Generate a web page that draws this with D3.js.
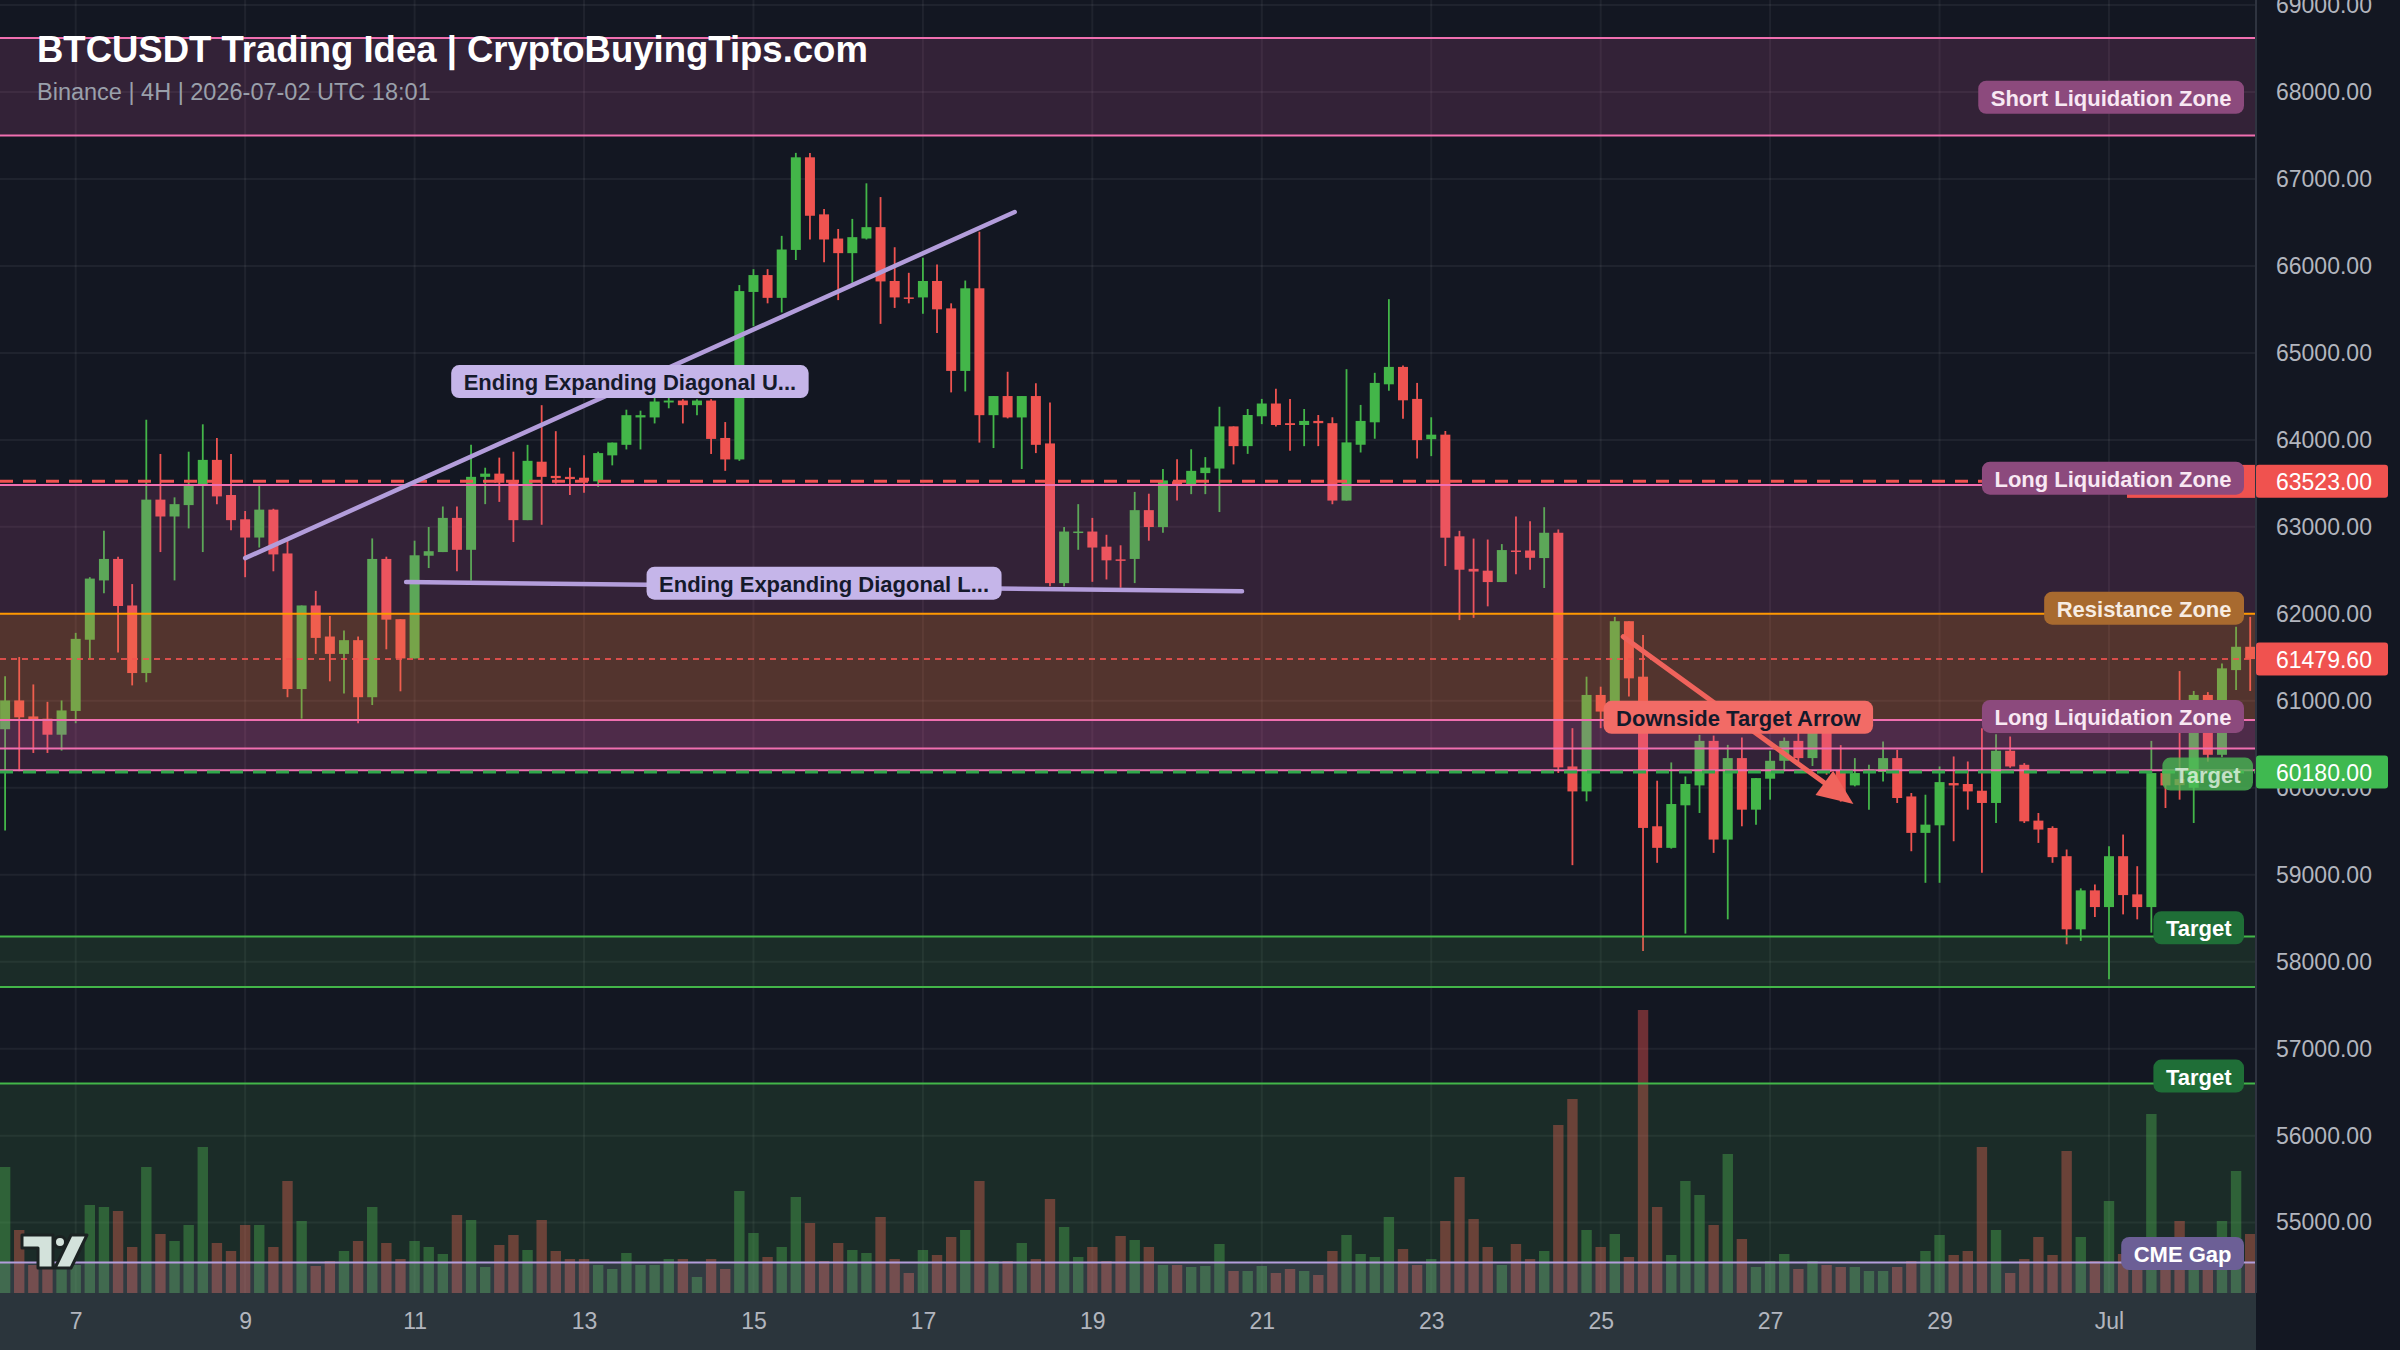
<!DOCTYPE html>
<html>
<head>
<meta charset="utf-8">
<script src="https://cdn.jsdelivr.net/npm/d3@7"></script>
<style>
  html, body { margin: 0; padding: 0; background: #131722; }
  svg { display: block; font-family: "Liberation Sans", Arial, sans-serif; }
</style>
</head>
<body>
<svg id="chart" width="2400" height="1350"></svg>
<script>
// BTCUSDT 4H bars, first bar 2026-06-06 04:00 UTC
var firstBar = "2026-06-06T04:00:00Z";

var opens = [60673,61004,60820,60794,60610,60883,61702,62384,62631,62096,61319,63313,63119,63250,63471,63770,63366,63087,62877,63198,
  62694,61135,62096,61739,61539,61697,61041,62631,61938,61487,62668,62710,63103,62736,63575,63612,63523,63077,63749,63586,
  63575,63565,63523,63822,63943,64258,64258,64430,64452,64399,64452,64022,63775,65701,65895,65633,66184,67249,66593,66315,
  66147,66315,66446,65827,65638,65638,65827,65512,64793,65743,64284,64504,64258,64504,63959,62353,62930,62946,62772,62626,
  62631,63192,62997,63523,63470,63618,63670,64155,63928,64271,64418,64192,64171,64218,64192,63302,63944,64202,64639,64839,
  64471,64008,64060,62891,62517,62496,62365,62728,62728,62641,62932,60245,59958,61067,60876,61915,61277,59557,59309,59798,
  60027,60539,59404,60341,59748,60104,60310,60539,60341,60646,60200,60027,60169,60180,60341,59900,59481,59568,60054,60043,
  59966,59825,60425,60264,59622,59538,59213,58372,58820,58628,59213,58774,58628,60169,60100,60000,61067,60379,61353,61621];
var highs = [61282,61503,61188,60988,61004,61781,62421,62956,62657,62342,64231,63838,63339,63864,64179,64022,63838,63182,63486,63208,
  62841,62096,62264,61975,61807,61739,62867,62657,61938,62841,62998,63234,63234,63943,63680,63796,63864,63943,64399,64100,
  63680,63822,63864,63969,64347,64336,64494,64494,64468,64468,64468,64205,65780,65963,65963,66346,67300,67300,66656,66425,
  66541,66950,66792,66215,65921,66094,66016,65570,65832,66394,64504,64783,64504,64651,64431,62998,63261,63103,62909,62788,
  63402,63381,63665,63776,63892,63802,64381,64155,64355,64471,64587,64471,64355,64286,64260,64813,64402,64771,65618,64855,
  64655,64260,64102,62954,62865,62854,62802,63118,63065,63226,62970,60685,61277,61162,61965,61915,61755,60081,60291,60130,
  60608,60600,60493,60578,60111,60425,60578,60646,60700,60685,60490,60341,60264,60532,60436,59940,59920,60245,60360,60302,
  60685,60616,60589,60283,59710,59557,59290,58843,58888,59328,59462,59098,60539,60207,61342,61113,61100,61430,61850,61965];
var lows = [59508,60191,60400,60400,60427,60742,61487,62237,61555,61177,61214,62710,62384,62982,62710,63261,62961,62421,62762,62489,
  61041,60794,61539,61224,61083,60742,60951,61592,61109,61487,62526,62710,62489,62384,63261,63287,62825,63077,63024,63497,
  63366,63392,63460,63707,63890,63890,64189,64363,64189,64284,63838,63644,63759,65307,65570,65465,66068,66304,66042,65607,
  65806,66304,65334,65517,65570,65449,65229,64546,64557,63969,63906,64247,63665,63848,62316,62316,62736,62368,62395,62300,
  62353,62841,62933,63302,63376,63376,63170,63718,63839,64181,64155,63876,63928,63928,63260,63302,63855,64013,64565,64244,
  63786,63813,62549,61928,61954,62086,62365,62454,62507,62297,60170,59110,59844,60685,60800,61048,58124,59137,59300,58323,
  59710,59251,58487,59557,59576,59863,60188,60250,60250,60150,59840,60016,59748,60073,59825,59270,58907,58907,59385,59748,
  59022,59595,60230,59595,59366,59137,58200,58239,58514,57799,58544,58487,58334,59767,59863,59595,60300,60350,61124,61113];
var closes = [61004,60810,60789,60610,60889,61712,62405,62631,62090,61319,63313,63119,63261,63471,63770,63350,63077,62877,63198,62683,
  61135,62096,61723,61539,61697,61041,62631,61933,61487,62673,62720,63103,62736,63575,63612,63507,63077,63759,63575,63560,
  63549,63523,63848,63969,64284,64284,64441,64452,64399,64452,64011,63775,65711,65895,65633,66189,67249,66577,66304,66147,
  66331,66446,65822,65638,65628,65827,65501,64793,65743,64284,64504,64258,64504,63943,62353,62946,62946,62762,62615,62615,
  63192,62998,63534,63470,63644,63681,64155,63928,64286,64418,64171,64171,64218,64192,63302,63971,64218,64655,64839,64455,
  63997,64060,62875,62507,62486,62365,62733,62718,62644,62932,60234,59958,61067,60876,61915,61258,59538,59309,59813,60043,
  60539,59404,60341,59748,60111,60310,60539,60341,60646,60180,59950,60169,60210,60341,59882,59481,59576,60065,60027,59958,
  59825,60425,60245,59614,59519,59202,58372,58820,58628,59213,58766,58628,60169,60027,60030,61067,60379,61373,61621,61479.6];
var volumes = [126,63,28,28,25,28,88,86,82,46,126,59,52,68,146,50,42,68,68,46,
  112,72,27,32,42,52,86,50,34,52,46,39,78,73,26,48,58,43,73,42,
  34,34,28,24,40,28,28,34,34,16,34,24,102,60,36,46,96,70,32,50,
  43,40,76,34,20,43,38,56,63,112,32,32,50,34,94,66,36,46,32,57,
  53,46,28,28,26,27,49,22,22,27,20,24,22,18,42,58,39,36,76,44,
  28,34,72,116,74,46,28,49,34,42,168,194,63,46,59,36,283,86,38,112,
  98,68,139,54,26,32,39,24,32,28,26,26,22,22,26,32,42,58,38,42,
  146,63,20,34,56,38,142,56,32,92,39,38,179,45,72,54,56,72,122,59];

var priceTicks = [55000,56000,57000,58000,59000,60000,61000,62000,63000,64000,65000,66000,67000,68000,69000];

// horizontal zones drawn on the chart
var zoneNames   = ["Short Liquidation Zone","Long Liquidation Zone","Resistance Zone","Long Liquidation Zone","Target","Target","CME Gap"];
var zoneKinds   = ["liq","liq","res","liq","target","target","cme"];
var zoneTops    = [68620,63480,62000,60780,58290,56600,54540];
var zoneBottoms = [67500,60450,60780,60200,57710,53000,53000];
var zoneLabelAt = [67940,63560,62065,60820,58390,56685,54645];

// price lines with axis tags
var lineNames  = ["long liq","last","target"];
var linePrices = [63523, 61479.6, 60180];

// trend lines (bar offset, price)
var diagNames  = ["Ending Expanding Diagonal U...","Ending Expanding Diagonal L..."];
var diagBar0   = [17, 28.4];
var diagPrice0 = [62640, 62365];
var diagBar1   = [71.5, 87.6];
var diagPrice1 = [66620, 62260];

var arrowName = "Downside Target Arrow";
var arrowBars = [114.6, 130.9];
var arrowPrices = [61737, 59813];

var svg = d3.select("#chart");
var plotRight = 2256, plotBottom = 1293;
var barMs = 4 * 3600 * 1000;
var t0 = new Date(firstBar).getTime();
var times = opens.map(function(d, i) { return new Date(t0 + i * barMs); });

var x = d3.scaleUtc().domain([times[0], times[times.length - 1]]).range([5.1, 2250.2]);
var y = d3.scaleLinear().domain([55000, 68000]).range([1222.6, 92]);
var yVol = d3.scaleLinear().domain([0, 283]).range([plotBottom, plotBottom - 283]);
function xb(bar) { return x(new Date(t0 + bar * barMs)); }

var up = "#43b649", down = "#ef5350";
var zoneStyle = {
  liq:    {fill: "rgba(225,95,170,0.16)", line: "#f06fb0", box: "#8c4a7d", text: "#f8e8f3"},
  res:    {fill: "rgba(255,152,0,0.16)",  line: "#ff9800", box: "#a86a2f", text: "#f7ece2"},
  target: {fill: "rgba(76,175,80,0.14)",  line: "#43b649", box: "#1f6e37", text: "#ffffff"},
  cme:    {fill: "rgba(179,157,219,0.14)", line: "#b39ddb", box: "#6c5f96", text: "#ffffff"}
};

svg.append("rect").attr("width", 2400).attr("height", 1350).attr("fill", "#131722");

var defs = svg.append("defs");
defs.append("clipPath").attr("id", "plot").append("rect")
  .attr("x", 0).attr("y", 0).attr("width", plotRight).attr("height", plotBottom);

var plot = svg.append("g").attr("clip-path", "url(#plot)");

// grid
var dayTicks = x.ticks(d3.utcDay.every(2));
plot.append("g").selectAll("line").data(priceTicks).join("line")
  .attr("x1", 0).attr("x2", plotRight)
  .attr("y1", function(d) { return y(d); }).attr("y2", function(d) { return y(d); })
  .attr("stroke", "rgba(255,255,255,0.055)").attr("stroke-width", 2);
plot.append("g").selectAll("line").data(dayTicks).join("line")
  .attr("x1", function(d) { return x(d); }).attr("x2", function(d) { return x(d); })
  .attr("y1", 0).attr("y2", plotBottom)
  .attr("stroke", "rgba(255,255,255,0.055)").attr("stroke-width", 2);

// volume
plot.append("g").selectAll("rect").data(volumes).join("rect")
  .attr("x", function(d, i) { return x(times[i]) - 5.2; })
  .attr("width", 10.4)
  .attr("y", function(d) { return yVol(d); })
  .attr("height", function(d) { return plotBottom - yVol(d); })
  .attr("fill", function(d, i) { return closes[i] >= opens[i] ? "rgba(76,175,80,0.42)" : "rgba(239,83,80,0.42)"; });

// candles
var cg = plot.append("g");
cg.selectAll("line").data(opens).join("line")
  .attr("x1", function(d, i) { return x(times[i]); })
  .attr("x2", function(d, i) { return x(times[i]); })
  .attr("y1", function(d, i) { return y(highs[i]); })
  .attr("y2", function(d, i) { return y(lows[i]); })
  .attr("stroke", function(d, i) { return closes[i] >= opens[i] ? up : down; })
  .attr("stroke-width", 1.8);
cg.selectAll("rect").data(opens).join("rect")
  .attr("x", function(d, i) { return x(times[i]) - 5; })
  .attr("width", 10)
  .attr("y", function(d, i) { return y(Math.max(opens[i], closes[i])); })
  .attr("height", function(d, i) { return Math.max(1.5, Math.abs(y(opens[i]) - y(closes[i]))); })
  .attr("fill", function(d, i) { return closes[i] >= opens[i] ? up : down; });

// zones
var zg = plot.append("g");
zoneNames.forEach(function(name, k) {
  var st = zoneStyle[zoneKinds[k]];
  zg.append("rect").attr("x", 0).attr("width", plotRight)
    .attr("y", y(zoneTops[k])).attr("height", y(zoneBottoms[k]) - y(zoneTops[k]))
    .attr("fill", st.fill);
});
zoneNames.forEach(function(name, k) {
  var st = zoneStyle[zoneKinds[k]];
  [zoneTops[k], zoneBottoms[k]].forEach(function(p) {
    zg.append("line").attr("x1", 0).attr("x2", plotRight)
      .attr("y1", y(p)).attr("y2", y(p))
      .attr("stroke", st.line).attr("stroke-width", 2);
  });
});

// price lines
var lg = plot.append("g");
lg.append("line").attr("x1", 0).attr("x2", plotRight).attr("y1", y(linePrices[0])).attr("y2", y(linePrices[0]))
  .attr("stroke", "#f0524f").attr("stroke-width", 3).attr("stroke-dasharray", "13,10");
lg.append("line").attr("x1", 0).attr("x2", plotRight).attr("y1", y(linePrices[1])).attr("y2", y(linePrices[1]))
  .attr("stroke", "rgba(240,82,79,0.85)").attr("stroke-width", 2).attr("stroke-dasharray", "6,5");
lg.append("line").attr("x1", 0).attr("x2", plotRight).attr("y1", y(linePrices[2])).attr("y2", y(linePrices[2]))
  .attr("stroke", "#2fa84a").attr("stroke-width", 3).attr("stroke-dasharray", "13,10");

// trend lines
var dg = plot.append("g");
diagNames.forEach(function(n, k) {
  dg.append("line")
    .attr("x1", xb(diagBar0[k])).attr("y1", y(diagPrice0[k]))
    .attr("x2", xb(diagBar1[k])).attr("y2", y(diagPrice1[k]))
    .attr("stroke", "#b39ddb").attr("stroke-width", 4.5).attr("stroke-linecap", "round");
});

// arrow
var ax0 = xb(arrowBars[0]), ay0 = y(arrowPrices[0]), ax1 = xb(arrowBars[1]), ay1 = y(arrowPrices[1]);
var ang = Math.atan2(ay1 - ay0, ax1 - ax0);
var headLen = 36, headW = 15;
var bx = ax1 - headLen * Math.cos(ang), by = ay1 - headLen * Math.sin(ang);
dg.append("line").attr("x1", ax0).attr("y1", ay0).attr("x2", bx).attr("y2", by)
  .attr("stroke", "#f0635c").attr("stroke-width", 5).attr("stroke-linecap", "round");
dg.append("path")
  .attr("d", "M" + ax1 + "," + ay1 +
    "L" + (bx + headW * Math.sin(ang)) + "," + (by - headW * Math.cos(ang)) +
    "L" + (bx - headW * Math.sin(ang)) + "," + (by + headW * Math.cos(ang)) + "Z")
  .attr("fill", "#f0635c");

// label helper: box centred at (cx, cy) or right-aligned at rightEdge
function label(g, text, cx, cy, bg, fg, rightEdge, opacity) {
  var t = g.append("text").text(text)
    .attr("font-size", 22).attr("font-weight", "bold").attr("fill", fg)
    .attr("dominant-baseline", "central").attr("text-anchor", "middle");
  var w = t.node().getComputedTextLength() + 25;
  if (rightEdge != null) cx = rightEdge - w / 2;
  t.attr("x", cx).attr("y", cy + 1);
  g.insert("rect", function() { return t.node(); })
    .attr("x", cx - w / 2).attr("y", cy - 16.5).attr("width", w).attr("height", 33)
    .attr("rx", 8).attr("fill", bg).attr("opacity", opacity == null ? 1 : opacity);
  if (opacity != null) t.attr("opacity", opacity);
}

var labG = svg.append("g");
// red stub under upper long-liq label
labG.append("rect").attr("x", 2127).attr("y", y(linePrices[0]) - 16.5).attr("width", plotRight - 2127).attr("height", 33)
  .attr("fill", "#f0524f");
zoneNames.forEach(function(name, k) {
  var st = zoneStyle[zoneKinds[k]];
  label(labG, name, 0, y(zoneLabelAt[k]), st.box, st.text, 2244);
});
label(labG, "Target", 0, y(linePrices[2]) + 2, "#4cbb55", "#e8f5e9", 2253, 0.78);
diagNames.forEach(function(n, k) {
  var mx = (xb(diagBar0[k]) + xb(diagBar1[k])) / 2;
  var my = (y(diagPrice0[k]) + y(diagPrice1[k])) / 2;
  label(labG, n, mx, my - 3.5, "#c5b5e9", "#151a2b");
});
label(labG, arrowName, (ax0 + ax1) / 2, (ay0 + ay1) / 2 - 3, "#f26b66", "#151a2b");

// title
svg.append("text").attr("x", 37).attr("y", 62).text("BTCUSDT Trading Idea | CryptoBuyingTips.com")
  .attr("font-size", 36.5).attr("font-weight", "bold").attr("fill", "#ffffff");
svg.append("text").attr("x", 37).attr("y", 100).text("Binance | 4H | 2026-07-02 UTC 18:01")
  .attr("font-size", 23.5).attr("fill", "#9aa0ab");

// TradingView mark
var logo = svg.append("g").attr("fill", "#d3e2db").attr("stroke", "#1b2222").attr("stroke-width", 3)
  .attr("stroke-linejoin", "round");
logo.append("path").attr("d", "M22,1235 L53,1235 L53,1268 L38,1268 L38,1248 L22,1248 Z");
logo.append("circle").attr("cx", 60).attr("cy", 1242).attr("r", 5.5);
logo.append("path").attr("d", "M71,1235 L87,1235 L71,1268 L55,1268 Z");

// bottom axis band
svg.append("rect").attr("x", 0).attr("y", plotBottom).attr("width", plotRight).attr("height", 1350 - plotBottom)
  .attr("fill", "#2b353c");
var xAxis = d3.axisBottom(x).tickValues(dayTicks).tickSize(0).tickPadding(20)
  .tickFormat(function(d) { return d.getUTCDate() === 1 ? d3.utcFormat("%b")(d) : d.getUTCDate(); });
var xg = svg.append("g").attr("transform", "translate(0," + plotBottom + ")").call(xAxis);
xg.select(".domain").remove();
xg.selectAll("text").attr("font-size", 23).attr("fill", "#b2b5be").attr("font-family", "Liberation Sans, Arial, sans-serif");

// right price axis
svg.append("line").attr("x1", plotRight).attr("x2", plotRight).attr("y1", 0).attr("y2", plotBottom)
  .attr("stroke", "#2f3440").attr("stroke-width", 2);
var yAxis = d3.axisRight(y).tickValues(priceTicks).tickSize(0).tickPadding(0).tickFormat(d3.format(".2f"));
var yg = svg.append("g").attr("transform", "translate(2276,0)").call(yAxis);
yg.select(".domain").remove();
yg.selectAll("text").attr("font-size", 23).attr("fill", "#b2b5be").attr("font-family", "Liberation Sans, Arial, sans-serif");

var tagColors = ["#f0524f", "#f0524f", "#3fb950"];
linePrices.forEach(function(p, k) {
  svg.append("rect").attr("x", plotRight).attr("y", y(p) - 16.5).attr("width", 132).attr("height", 33)
    .attr("rx", 3).attr("fill", tagColors[k]);
  svg.append("text").attr("x", 2276).attr("y", y(p) + 1).attr("dominant-baseline", "central")
    .attr("font-size", 23).attr("fill", "#ffffff").text(d3.format(".2f")(p));
});
</script>
</body>
</html>
